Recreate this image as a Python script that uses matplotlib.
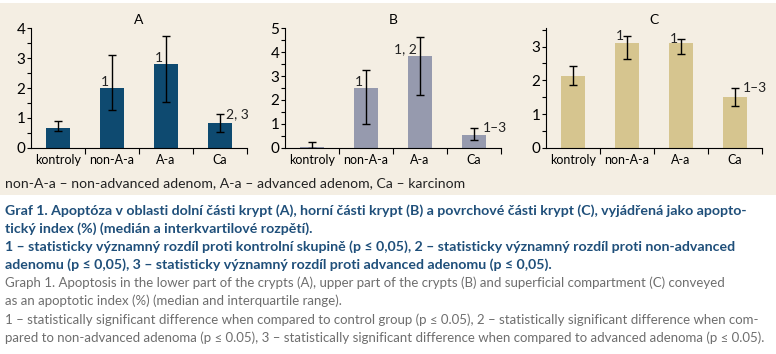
import matplotlib.pyplot as plt
from matplotlib.patches import Rectangle

### DATA ###
categories = ["kontroly", "non-A-a", "A-a", "Ca"]

a_median = [0.68, 2.0, 2.8, 0.83]
a_low = [0.58, 1.27, 1.52, 0.52]
a_high = [0.9, 3.1, 3.73, 1.12]
a_marks = ["", "1", "1", "2, 3"]

b_median = [0.05, 2.5, 3.85, 0.55]
b_low = [0.0, 1.0, 2.2, 0.35]
b_high = [0.27, 3.25, 4.62, 0.85]
b_marks = ["", "1", "1, 2", "1\u20133"]

c_median = [2.12, 3.1, 3.12, 1.5]
c_low = [1.87, 2.62, 2.77, 1.25]
c_high = [2.43, 3.32, 3.23, 1.77]
c_marks = ["", "1", "1", "1\u20133"]

plt.rcParams['font.family'] = ['Lato', 'DejaVu Sans']

W, H = 776, 354
fig = plt.figure(figsize=(W / 100, H / 100), dpi=100)
fig.patch.set_facecolor("white")

# beige panel behind the charts
fig.add_artist(Rectangle((0, 1 - 195 / H), 1, (195 - 3) / H,
                         transform=fig.transFigure, facecolor="#f4eee3",
                         edgecolor="none", zorder=0))


def panel(x0, title, med, low, high, marks, color, ymax, ytop, mark_pos, right_off):
    ax = fig.add_axes([x0 / W, 1 - 148 / H, 216 / W, 120 / H])
    ax.set_facecolor("none")
    x = range(len(categories))
    yerr = [[m - l for m, l in zip(med, low)], [h - m for m, h in zip(med, high)]]
    ax.bar(x, med, width=0.43, color=color, zorder=2)
    ax.errorbar(x, med, yerr=yerr, fmt="none", ecolor="black", elinewidth=1,
                capsize=2.6, capthick=1, zorder=3)
    for i, m in enumerate(marks):
        if not m:
            continue
        if mark_pos[i] == "bar":
            # sits on the bar top, left of the whisker
            ax.text(i - 0.05, med[i], m, ha="right", va="bottom", fontsize=10, color="#222222")
        elif mark_pos[i] == "cap":
            ax.text(i - 0.06, high[i], m, ha="right", va="center", fontsize=10, color="#222222")
        else:
            ax.text(i + right_off, high[i], m, ha="left", va="center", fontsize=10, color="#222222")
    ax.set_xlim(-0.5, 3.5)
    ax.set_ylim(0, ytop)
    ax.set_yticks(range(ymax + 1))
    ax.set_yticks([v + 0.5 for v in range(int(ytop * 2)) if (v + 0.5) <= ytop], minor=True)
    ax.set_xticks([0.5, 1.5, 2.5, 3.5])
    ax.set_xticklabels([])
    ax.set_xticks(list(x), minor=True)
    ax.set_xticklabels(categories, minor=True, fontsize=9)
    ax.tick_params(axis="x", which="minor", length=0, pad=4)
    ax.tick_params(axis="x", which="major", length=4, width=0.8)
    ax.tick_params(axis="y", which="both", length=3, width=0.8, labelsize=11, pad=1)
    for s in ["top", "right"]:
        ax.spines[s].set_visible(False)
    for s in ["left", "bottom"]:
        ax.spines[s].set_linewidth(0.8)
    ax.set_title(title, fontsize=10, pad=3)
    return ax


panel(31, "A", a_median, a_low, a_high, a_marks, "#0e4a70", 4, 4,
      ["", "bar", "bar", "right"], 0.12)
panel(285, "B", b_median, b_low, b_high, b_marks, "#969aae", 5, 5,
      ["", "bar", "bar", "right"], 0.17)
panel(546, "C", c_median, c_low, c_high, c_marks, "#d6c58f", 3, 3.55,
      ["", "cap", "cap", "right"], 0.15)

fig.text(5 / W, 1 - 183 / H, "non-A-a \u2013 non-advanced adenom, A-a \u2013 advanced adenom, Ca \u2013 karcinom",
         fontsize=10.1, va="center", ha="left", color="#222222")

cz = "#1f4f7a"
en = "#6e6e6e"
lines = [
    (211, "Graf 1. Apoptóza v oblasti dolní části krypt (A), horní části krypt (B) a povrchové části krypt (C), vyjádřená jako apopto-", cz, "bold"),
    (229, "tický index (%) (medián a interkvartilové rozpětí).", cz, "bold"),
    (247, "1 \u2013 statisticky významný rozdíl proti kontrolní skupině (p \u2264 0,05), 2 \u2013 statisticky významný rozdíl proti non-advanced", cz, "bold"),
    (265, "adenomu (p \u2264 0,05), 3 \u2013 statisticky významný rozdíl proti advanced adenomu (p \u2264 0,05).", cz, "bold"),
    (283, "Graph 1. Apoptosis in the lower part of the crypts (A), upper part of the crypts (B) and superficial compartment (C) conveyed", en, "normal"),
    (301, "as an apoptotic index (%) (median and interquartile range).", en, "normal"),
    (320, "1 \u2013 statistically significant difference when compared to control group (p \u2264 0.05), 2 \u2013 statistically significant difference when com-", en, "normal"),
    (338, "pared to non-advanced adenoma (p \u2264 0.05), 3 \u2013 statistically significant difference when compared to advanced adenoma (p \u2264 0.05).", en, "normal"),
]
for y, txt, col, wt in lines:
    fig.text(5 / W, 1 - y / H, txt, fontsize=10.2 if wt == "bold" else 9.55,
             va="center", ha="left", color=col, fontweight=wt)

fig.savefig("out.png", dpi=100, facecolor=fig.get_facecolor())
